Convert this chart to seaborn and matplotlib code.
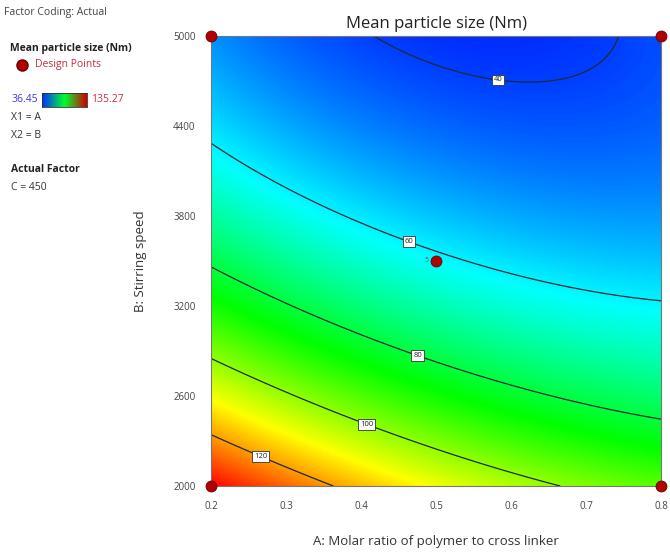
import numpy as np
import matplotlib
matplotlib.use("Agg")
import matplotlib.pyplot as plt
from matplotlib.colors import LinearSegmentedColormap
import seaborn as sns

# ---- data ----
# points lying on the contour lines (A, B, level)
contour_A = [0.429, 0.501, 0.616, 0.701, 0.741,
             0.200, 0.333, 0.467, 0.600, 0.733, 0.800,
             0.200, 0.333, 0.467, 0.600, 0.733, 0.800,
             0.200, 0.333, 0.467, 0.600, 0.637,
             0.200, 0.267, 0.347]
contour_B = [5000, 4795, 4673, 4787, 4995,
             4285, 3907, 3607, 3395, 3273, 3235,
             3451, 3151, 2873, 2662, 2529, 2451,
             2845, 2595, 2329, 2107, 2007,
             2335, 2207, 2007]
contour_level = [40, 40, 40, 40, 40,
                 60, 60, 60, 60, 60, 60,
                 80, 80, 80, 80, 80, 80,
                 100, 100, 100, 100, 100,
                 120, 120, 120]
levels = [40, 60, 80, 100, 120]
resp_min, resp_max = 36.45, 135.27

design_A = [0.2, 0.8, 0.2, 0.8, 0.5]
design_B = [2000, 2000, 5000, 5000, 3500]

x_ticks = [0.2, 0.3, 0.4, 0.5, 0.6, 0.7, 0.8]
y_ticks = [2000, 2600, 3200, 3800, 4400, 5000]

title = "Mean particle size (Nm)"
xlabel = "A: Molar ratio of polymer to cross linker"
ylabel = "B: Stirring speed"

# ---- response surface fitted (least squares) to the read contour points ----
def coded(A, B):
    return (np.asarray(A) - 0.5) / 0.3, (np.asarray(B) - 3500) / 1500.0

def design_matrix(a, b):
    return np.column_stack([np.ones_like(a), a, b, a * b, a * a, b * b,
                            a * a * b, a * b * b, a * a * b * b])

ca, cb = coded(contour_A, contour_B)
coef, *_ = np.linalg.lstsq(design_matrix(ca, cb), np.asarray(contour_level, float), rcond=None)

gA = np.linspace(0.2, 0.8, 301)
gB = np.linspace(2000, 5000, 301)
AA, BB = np.meshgrid(gA, gB)
a, b = coded(AA.ravel(), BB.ravel())
ZZ = (design_matrix(a, b) @ coef).reshape(AA.shape)

# ---- styling ----
sns.set_style("white")
plt.rcParams['font.family'] = ['Open Sans', 'DejaVu Sans']

cmap = LinearSegmentedColormap.from_list(
    "de", ["#0020ff", "#00ffff", "#00ff00", "#ffff00", "#ff0000"])

fig = plt.figure(figsize=(6.7, 5.55), dpi=100)
ax = fig.add_axes([211 / 670, 69 / 555, 450 / 670, 450 / 555])

ax.pcolormesh(AA, BB, ZZ, cmap=cmap, vmin=resp_min, vmax=resp_max,
              shading='gouraud', rasterized=True)
cs = ax.contour(AA, BB, ZZ, levels=levels, colors='#1e2a30', linewidths=0.9)
label_pos = [(0.583, 4720), (0.463, 3613), (0.475, 2860), (0.407, 2407), (0.268, 2213)]
texts = ax.clabel(cs, levels, inline=False, fontsize=5.5, fmt='%d', manual=label_pos)
for t in texts:
    t.set_rotation(0)
    t.set_color('#222')
    t.set_bbox(dict(boxstyle='square,pad=0.25', fc='white', ec='#333', lw=0.6))

sns.scatterplot(x=design_A, y=design_B, ax=ax, s=62, color='#b00000',
                edgecolor='#6a0000', linewidth=0.6, clip_on=False, zorder=6, legend=False)
ax.text(0.49, 3500, "5", fontsize=5, color='#556', ha='right', va='center')

ax.set_xlim(0.2, 0.8)
ax.set_ylim(2000, 5000)
ax.set_xticks(x_ticks)
ax.set_xticklabels([f"{v:g}" for v in x_ticks])
ax.set_yticks(y_ticks)
ax.set_yticklabels([str(v) for v in y_ticks])
ax.tick_params(axis='both', direction='out', length=7, width=0.8, color='#666',
               labelsize=7, labelcolor='#444', pad=4)
for sp in ax.spines.values():
    sp.set_color('#777')
    sp.set_linewidth(0.8)

ax.set_title(title, fontsize=12, color='#222', pad=6)
ax.set_xlabel(xlabel, fontsize=9.5, color='#333', labelpad=16)
ax.set_ylabel(ylabel, fontsize=9.5, color='#333', labelpad=19)

# ---- left side legend panel ----
def ftxt(x, y, s, **kw):
    fig.text(x / 670, 1 - y / 555, s, va='center', ha='left', **kw)

ftxt(4, 13, "Factor Coding: Actual", fontsize=7.5, color='#444')
ftxt(10, 48, "Mean particle size (Nm)", fontsize=7.5, color='#222', fontweight='bold')
fig.lines.append(plt.Line2D([22 / 670], [1 - 65 / 555], marker='o', markersize=8,
                            color='#b00000', markeredgecolor='#6a0000',
                            transform=fig.transFigure, figure=fig))
ftxt(35, 65, "Design Points", fontsize=7.5, color='#c0303a')
ftxt(11, 100, f"{resp_min:.2f}", fontsize=7.5, color='#3a3ae0')
ftxt(91, 100, f"{resp_max:.2f}", fontsize=7.5, color='#d03040')
cax = fig.add_axes([42 / 670, 1 - 107 / 555, 45 / 670, 14 / 555])
legend_cmap = LinearSegmentedColormap.from_list("lg", ["#0030ff", "#00ff30", "#d00000"])
cax.imshow(np.linspace(0, 1, 100)[None, :], aspect='auto', cmap=legend_cmap)
cax.set_xticks([]); cax.set_yticks([])
for sp in cax.spines.values():
    sp.set_visible(True); sp.set_color('#333'); sp.set_linewidth(0.6)
ftxt(11, 118, "X1 = A", fontsize=7.5, color='#333')
ftxt(11, 136, "X2 = B", fontsize=7.5, color='#333')
ftxt(11, 170, "Actual Factor", fontsize=7.5, color='#222', fontweight='bold')
ftxt(11, 187, "C = 450", fontsize=7.5, color='#333')

fig.savefig("out.png", dpi=100)
